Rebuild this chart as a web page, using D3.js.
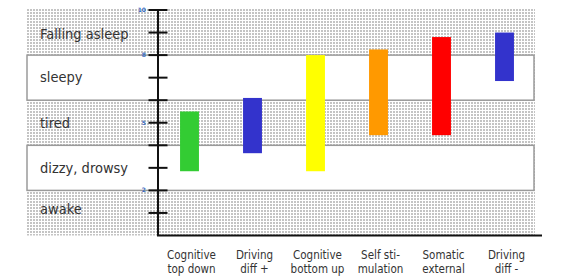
<!DOCTYPE html>
<html>
<head>
<meta charset="utf-8">
<script src="https://cdn.jsdelivr.net/npm/d3@7"></script>
<style>
  html, body { margin: 0; padding: 0; background: #fff; }
  svg { display: block; }
</style>
</head>
<body>
<svg id="chart" width="572" height="278"></svg>
<script>
// ---- data ----
const categories = ["Cognitive\ntop down", "Driving\ndiff +", "Cognitive\nbottom up", "Self sti-\nmulation", "Somatic\nexternal", "Driving\ndiff -"];
const lowValues  = [2.85, 3.65, 2.85, 4.45, 4.45, 6.85];
const highValues = [5.5, 6.1, 8.0, 8.25, 8.8, 9.0];
const barColors  = ["#33cc33", "#3333cc", "#ffff00", "#ff9900", "#ff0000", "#3333cc"];
const bandNames  = ["awake", "dizzy, drowsy", "tired", "sleepy", "Falling asleep"];
const bandFrom   = [0, 2, 4, 6, 8];
const bandTo     = [2, 4, 6, 8, 10];
const bandWhite  = [false, true, false, true, false];
const tickValues = [1, 2, 3, 4, 5, 6, 7, 8, 9, 10];
const tickLabels = [2, 5, 8, 10];

// ---- layout ----
const svg = d3.select("#chart");
const y = d3.scaleLinear().domain([0, 10]).range([235.5, 10]);
const x = d3.scaleBand().domain(categories).range([158, 536]).paddingInner(0.7).paddingOuter(0.35);
const axisX = 158, bgLeft = 27, bgRight = 535;

const defs = svg.append("defs");
const pat = defs.append("pattern").attr("id", "dots").attr("patternUnits", "userSpaceOnUse")
  .attr("width", 3).attr("height", 3);
pat.append("rect").attr("width", 3).attr("height", 3).attr("fill", "#fff");
pat.append("rect").attr("x", 0).attr("y", 0).attr("width", 2).attr("height", 2).attr("fill", "#c4c4c4");

// dotted background
svg.append("rect").attr("x", bgLeft).attr("y", y(10) - 2).attr("width", bgRight - bgLeft)
  .attr("height", y(0) - y(10) + 2).attr("fill", "url(#dots)");

// white bands
const bands = bandNames.map((n, i) => ({ name: n, from: bandFrom[i], to: bandTo[i], white: bandWhite[i] }));
svg.selectAll("rect.band").data(bands.filter(b => b.white)).join("rect")
  .attr("class", "band")
  .attr("x", bgLeft).attr("width", bgRight - bgLeft - 1)
  .attr("y", d => y(d.to)).attr("height", d => y(d.from) - y(d.to))
  .attr("fill", "#fff").attr("stroke", "#9a9a9a").attr("stroke-width", 1.5);

// band labels
const labelDy = [1, 5, 5.5, 4, 6.5];
svg.selectAll("text.bandlabel").data(bands).join("text")
  .attr("class", "bandlabel")
  .attr("x", 40)
  .attr("y", (d, i) => (y(d.from) + y(d.to)) / 2 + labelDy[i])
  .attr("font-family", "'DejaVu Sans Condensed', 'DejaVu Sans', sans-serif")
  .attr("font-size", 14.5)
  .attr("fill", "#333")
  .text(d => d.name);

// bars
const bars = categories.map((c, i) => ({ cat: c, lo: lowValues[i], hi: highValues[i], color: barColors[i] }));
svg.selectAll("rect.bar").data(bars).join("rect")
  .attr("class", "bar")
  .attr("x", d => x(d.cat)).attr("width", x.bandwidth())
  .attr("y", d => y(d.hi)).attr("height", d => y(d.lo) - y(d.hi))
  .attr("fill", d => d.color);

// y axis
const yAxis = d3.axisLeft(y).tickValues(tickValues).tickSize(0).tickFormat("");
const gy = svg.append("g").attr("transform", `translate(${axisX},0)`).call(yAxis);
gy.select(".domain").remove();
svg.append("line").attr("x1", axisX).attr("x2", axisX).attr("y1", y(10)).attr("y2", y(0))
  .attr("stroke", "#111").attr("stroke-width", 2);
svg.selectAll("line.tick2").data(tickValues).join("line")
  .attr("class", "tick2")
  .attr("x1", axisX - 9.5).attr("x2", axisX + 9.5)
  .attr("y1", d => y(d)).attr("y2", d => y(d))
  .attr("stroke", "#111").attr("stroke-width", 2);
svg.selectAll("text.ticklabel").data(tickLabels).join("text")
  .attr("class", "ticklabel")
  .attr("x", axisX - 12).attr("y", d => y(d) + 2)
  .attr("text-anchor", "end")
  .attr("font-family", "'DejaVu Sans', sans-serif")
  .attr("font-size", 6).attr("font-weight", "bold")
  .attr("fill", "#3a6cc0")
  .text(d => d);

// x axis line
svg.append("line").attr("x1", axisX - 1).attr("x2", 542).attr("y1", y(0)).attr("y2", y(0))
  .attr("stroke", "#111").attr("stroke-width", 2);

// category labels
const catG = svg.selectAll("text.cat").data(categories).join("text")
  .attr("class", "cat")
  .attr("text-anchor", "middle")
  .attr("font-family", "'DejaVu Sans Condensed', 'DejaVu Sans', sans-serif")
  .attr("font-size", 11.5)
  .attr("fill", "#333");
catG.selectAll("tspan").data(d => d.split("\n").map(t => ({ t, cat: d }))).join("tspan")
  .attr("x", d => x(d.cat) + x.bandwidth() / 2 + 2)
  .attr("y", (d, i) => 258.5 + i * 14)
  .text(d => d.t);
</script>
</body>
</html>
